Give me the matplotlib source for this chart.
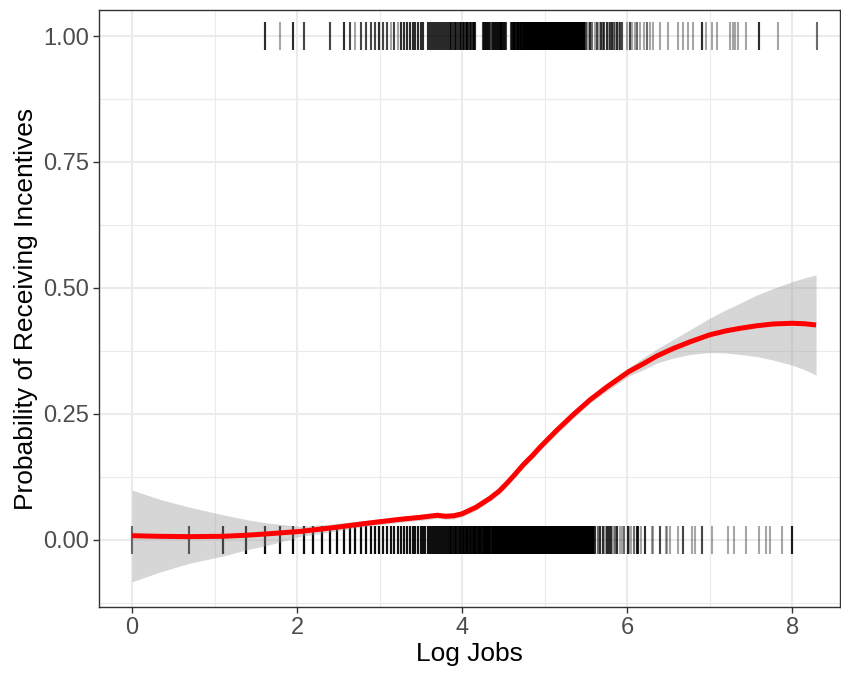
import numpy as np
import matplotlib
matplotlib.use("Agg")
import matplotlib.pyplot as plt
from matplotlib.ticker import MultipleLocator

# ---- firms that did NOT receive incentives (y = 0): job counts and how many firms share each count
zero_jobs = [1, 2, 3, 4, 5, 6, 7, 8, 9, 10, 11, 12, 13, 14, 15, 16, 17, 18, 19, 20,
             275, 282, 290, 300, 310, 317, 325, 333, 340, 348, 357, 372, 380, 390,
             408, 415, 425, 440, 455, 460, 475, 502, 545, 550, 602, 647, 652, 680,
             752, 797, 882, 920, 997, 1128, 1376, 1465, 1700, 2000, 2165, 2280,
             2630, 2990]
zero_counts = [2, 4, 7, 7, 7, 7, 7, 7, 7, 7, 7, 7, 7, 7, 7, 7, 7, 7, 7, 7,
               4, 2, 4, 4, 1, 4, 4, 4, 1, 2, 4, 1, 1, 2,
               4, 1, 1, 2, 4, 4, 1, 4, 1, 1, 3, 1, 1, 1,
               1, 3, 1, 1, 3, 1, 1, 1, 1, 1, 1, 1,
               1, 5]
# every count inside these spans is observed (solid band of marks)
zero_spans = [(21, 268)]
zero_span_counts = [6]

# ---- firms that received incentives (y = 1)
one_jobs = [5, 6, 7, 8, 11, 13, 14, 15, 16, 17, 18, 19, 20, 21, 22, 23, 24, 25,
            206, 219, 237, 245, 250, 258, 265, 274, 280, 287, 294, 300, 305, 315,
            322, 328, 335, 345, 350, 356, 365, 370, 378, 402, 418, 428, 445,
            455, 472, 494, 513, 533, 555, 602, 665, 750, 795, 845, 898, 997, 1050,
            1126, 1195, 1410, 1450, 1500, 1550, 1700, 2005, 2520, 4020]
one_counts = [4, 1, 4, 3, 3, 4, 3, 1, 3, 3, 3, 3, 4, 3, 3, 1, 3, 1,
              2, 4, 2, 3, 1, 4, 2, 1, 3, 1, 4, 2, 3, 4,
              1, 3, 4, 2, 1, 4, 1, 3, 3, 1, 3, 1, 1,
              2, 1, 1, 2, 1, 1, 1, 1, 1, 1, 1, 1, 4, 1,
              1, 1, 1, 1, 1, 1, 1, 4, 1, 2]
one_spans = [(26, 34), (36, 64), (70, 93), (99, 240)]
one_span_counts = [4, 4, 3, 3]

# ---- smoothed probability and its confidence band (x = log jobs)
fit_x = [0.0, 0.35, 0.7, 1.1, 1.4, 1.63, 2.04, 2.44, 2.84, 3.25, 3.5, 3.6, 3.7,
         3.8, 3.9, 4.0, 4.17, 4.34, 4.45, 4.54, 4.64, 4.74, 4.85, 4.95, 5.15,
         5.35, 5.55, 5.75, 6.02, 6.2, 6.36, 6.56, 6.76, 7.0, 7.2, 7.37, 7.57,
         7.77, 8.0, 8.15, 8.29]
fit_y = [0.0085, 0.0072, 0.0066, 0.0073, 0.0095, 0.012, 0.017, 0.0245, 0.033,
         0.041, 0.045, 0.047, 0.049, 0.047, 0.048, 0.052, 0.065, 0.083, 0.097,
         0.112, 0.130, 0.149, 0.167, 0.185, 0.218, 0.249, 0.278, 0.303, 0.334,
         0.350, 0.365, 0.380, 0.393, 0.407, 0.415, 0.420, 0.425, 0.4286, 0.430,
         0.429, 0.4266]
fit_lo = [-0.083, -0.063, -0.046, -0.032, -0.019, -0.011, 0.007, 0.017, 0.027,
          0.035, 0.039, 0.041, 0.043, 0.041, 0.042, 0.046, 0.059, 0.077, 0.091,
          0.106, 0.124, 0.143, 0.160, 0.178, 0.211, 0.242, 0.2715, 0.295, 0.325,
          0.338, 0.351, 0.361, 0.368, 0.372, 0.371, 0.368, 0.364, 0.357, 0.347,
          0.338, 0.327]
fit_hi = [0.099, 0.080, 0.065, 0.050, 0.040, 0.034, 0.027, 0.032, 0.039, 0.047,
          0.051, 0.053, 0.055, 0.053, 0.054, 0.058, 0.071, 0.089, 0.103, 0.118,
          0.136, 0.155, 0.174, 0.192, 0.225, 0.256, 0.2845, 0.311, 0.342, 0.362,
          0.379, 0.398, 0.417, 0.440, 0.457, 0.470, 0.486, 0.499, 0.5125, 0.520,
          0.526]

x_label = "Log Jobs"
y_label = "Probability of Receiving Incentives"
x_ticks = [0, 2, 4, 6, 8]
y_ticks = [0.0, 0.25, 0.50, 0.75, 1.00]
y_tick_labels = ["0.00", "0.25", "0.50", "0.75", "1.00"]

MARK_HALF = 0.027  # half height of a rug mark, in probability units


def expand(jobs, counts, spans, span_counts):
    vals = []
    for j, c in zip(jobs, counts):
        vals += [j] * c
    for (a, b), c in zip(spans, span_counts):
        for j in range(a, b + 1):
            vals += [j] * c
    return np.log(np.array(vals, dtype=float))


x0 = expand(zero_jobs, zero_counts, zero_spans, zero_span_counts)
x1 = expand(one_jobs, one_counts, one_spans, one_span_counts)

plt.rcParams["font.family"] = ["Liberation Sans", "DejaVu Sans"]

fig = plt.figure(figsize=(8.41, 6.77), dpi=100)
ax = fig.add_axes([99 / 841, 1 - 607 / 677, 741 / 841, 597 / 677])

# rug-style marks at 0 and 1 (each drawn separately so overlaps darken)
ax.vlines(x0, 0 - MARK_HALF, 0 + MARK_HALF, color="black", alpha=0.35,
          lw=1.5, zorder=2)
ax.vlines(x1, 1 - MARK_HALF, 1 + MARK_HALF, color="black", alpha=0.35,
          lw=1.5, zorder=2)

# confidence band and fitted curve
ax.fill_between(fit_x, fit_lo, fit_hi, color="#999999", alpha=0.4, lw=0, zorder=3)
ax.plot(fit_x, fit_y, color="#ff0000", lw=3.6, solid_capstyle="butt",
        solid_joinstyle="round", zorder=4)

ax.set_xlim(-0.4, 8.58)
ax.set_ylim(-0.133, 1.0516)

ax.set_xticks(x_ticks)
ax.set_xticklabels([str(t) for t in x_ticks])
ax.set_yticks(y_ticks)
ax.set_yticklabels(y_tick_labels)
ax.xaxis.set_minor_locator(MultipleLocator(1))
ax.yaxis.set_minor_locator(MultipleLocator(0.125))

ax.grid(which="major", color="#ebebeb", lw=1.5, zorder=0)
ax.grid(which="minor", color="#ebebeb", lw=0.8, zorder=0)
ax.set_axisbelow(True)

for s in ax.spines.values():
    s.set_color("#333333")
    s.set_linewidth(1.0)

ax.tick_params(which="major", length=4, width=1.0, color="#333333",
               labelcolor="#4d4d4d", labelsize=17, pad=3)
ax.tick_params(which="minor", length=0)

ax.set_xlabel(x_label, fontsize=19, color="black", labelpad=2)
ax.set_ylabel(y_label, fontsize=19, color="black", labelpad=4)

fig.savefig("out.png", dpi=100)
